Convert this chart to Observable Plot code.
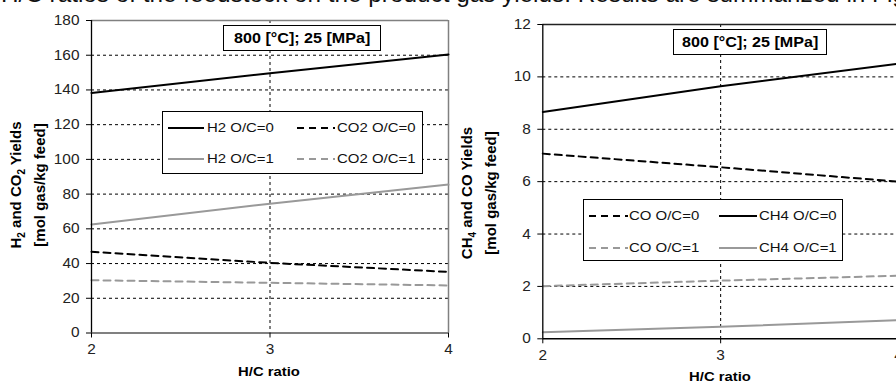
<!DOCTYPE html>
<html><head><meta charset="utf-8">
<script src="https://cdn.jsdelivr.net/npm/d3@7"></script>
<script src="https://cdn.jsdelivr.net/npm/@observablehq/plot@0.6"></script>
<style>
body{margin:0;background:#fff;font-family:"Liberation Sans",Arial,sans-serif;}
#page{position:relative;width:896px;height:383px;overflow:hidden;background:#fff;}
.abs{position:absolute;}
.toptext{position:absolute;left:1px;top:-19px;font-size:24.3px;line-height:25px;color:#111;white-space:nowrap;}
.ann{position:absolute;border:1px solid #000;background:#fff;font-weight:bold;color:#000;display:flex;align-items:center;justify-content:center;box-sizing:border-box;white-space:pre;}
.ann span{display:inline-block;font-size:14px;transform:scaleX(1.15);}
.legend{position:absolute;border:1px solid #000;background:#fff;box-sizing:border-box;}
.item{position:absolute;font-size:13px;color:#111;white-space:nowrap;line-height:14px;transform-origin:0 50%;transform:scaleX(1.15);}
.ytitle{position:absolute;transform:translate(-50%,-50%) rotate(-90deg);font-weight:bold;font-size:15px;line-height:18px;text-align:center;white-space:nowrap;color:#000;}
.xtitle{position:absolute;transform:translateX(-50%) scaleX(1.1);font-weight:bold;font-size:13.5px;color:#000;white-space:nowrap;}
</style></head><body><div id="page"></div>
<script>
// ---- data ----
const hcRatio = [2, 3, 4];
const xTicks = [2, 3, 4];
// left chart (H2, CO2)
const h2_oc0 = [138.3, 149.6, 160.4];
const h2_oc1 = [62.5, 74.5, 85.5];
const co2_oc0 = [46.8, 40.4, 35.2];
const co2_oc1 = [30.4, 28.9, 27.4];
const leftTicks = [0, 20, 40, 60, 80, 100, 120, 140, 160, 180];
// right chart (CH4, CO)
const ch4_oc0 = [8.66, 9.64, 10.5];
const ch4_oc1 = [0.25, 0.46, 0.71];
const co_oc0 = [7.07, 6.55, 6.0];
const co_oc1 = [2.01, 2.22, 2.41];
const rightTicks = [0, 2, 4, 6, 8, 10, 12];

const toRows = (vals) => hcRatio.map((x, i) => ({x, y: vals[i]}));

const page = document.getElementById("page");
const FONT = '"Liberation Sans", Arial, sans-serif';

const BLACK = "#000";
const GRAY = "#999";
const DASH = "7,5";

function stretchText(svg, sx) {
  svg.querySelectorAll('g[aria-label$="tick label"] text').forEach(t => {
    const tr = t.getAttribute("transform");
    if (tr) {
      t.setAttribute("transform", tr + ` scale(${sx},1)`);
    } else {
      const x = +t.getAttribute("x") || 0, y = +t.getAttribute("y") || 0;
      t.setAttribute("transform", `translate(${x},${y}) scale(${sx},1) translate(${-x},${-y})`);
    }
  });
}

function chart({ticks, ymax, series, marginLeft, marginTop, marginBottom, topStroke, rightStroke, bottomStroke, bottomWidth}) {
  const svg = Plot.plot({
    width: 450, height: 383,
    marginLeft, marginRight: 2, marginTop, marginBottom,
    x: {domain: [2, 4], axis: null},
    y: {domain: [0, ymax], axis: null},
    style: {fontFamily: FONT, fontSize: "14px", color: "#222", background: "transparent", overflow: "visible"},
    marks: [
      Plot.ruleY(ticks.filter(t => t > 0 && t < ymax), {stroke: "#000", strokeDasharray: "3,3", strokeWidth: 1}),
      Plot.ruleX([3], {stroke: "#000", strokeDasharray: "3,3", strokeWidth: 1}),
      Plot.ruleY([ymax], {stroke: topStroke, strokeWidth: 1.5}),
      rightStroke ? Plot.ruleX([4], {stroke: rightStroke, strokeWidth: 1.5}) : null,
      ...series.map(s => Plot.line(toRows(s.vals), {x: "x", y: "y", stroke: s.color, strokeWidth: s.w, strokeDasharray: s.dash})),
      Plot.ruleY([0], {stroke: bottomStroke, strokeWidth: bottomWidth}),
      Plot.ruleX([2], {stroke: "#000", strokeWidth: 1.3}),
      Plot.axisY(ticks, {anchor: "left", tickSize: 5, tickPadding: 7, label: null, stroke: "#000", fill: "#222", fontSize: 14, tickFormat: d => String(d)}),
      Plot.axisX(xTicks, {anchor: "bottom", tickSize: 5, tickPadding: 6, label: null, stroke: "#000", fill: "#222", fontSize: 14, tickFormat: d => String(d)})
    ]
  });
  stretchText(svg, 1.1);
  return svg;
}

const left = chart({
  ticks: leftTicks, ymax: 180, marginLeft: 91, marginTop: 20, marginBottom: 50.5,
  topStroke: "#808080", rightStroke: "#808080", bottomStroke: "#808080", bottomWidth: 1.8,
  series: [
    {vals: h2_oc0, color: BLACK, w: 2},
    {vals: h2_oc1, color: GRAY, w: 2},
    {vals: co2_oc0, color: BLACK, w: 2, dash: DASH},
    {vals: co2_oc1, color: GRAY, w: 2, dash: DASH}
  ]
});
left.style.position = "absolute"; left.style.left = "0px"; left.style.top = "0px";
page.appendChild(left);

const right = chart({
  ticks: rightTicks, ymax: 12, marginLeft: 92.3, marginTop: 24, marginBottom: 44.7,
  topStroke: "#222", rightStroke: null, bottomStroke: "#000", bottomWidth: 1.5,
  series: [
    {vals: ch4_oc0, color: BLACK, w: 2},
    {vals: ch4_oc1, color: GRAY, w: 2},
    {vals: co_oc0, color: BLACK, w: 2, dash: DASH},
    {vals: co_oc1, color: GRAY, w: 2, dash: DASH}
  ]
});
right.style.position = "absolute"; right.style.left = "450px"; right.style.top = "0px";
page.appendChild(right);

function add(html) { page.insertAdjacentHTML("beforeend", html); }

add(`<div class="toptext">H/C ratios of the feedstock on the product gas yields. Results are summarized in Fig</div>`);

// annotation boxes
add(`<div class="ann" style="left:223px;top:25px;width:158px;height:26px"><span>800 [°C]; 25 [MPa]</span></div>`);
add(`<div class="ann" style="left:673px;top:29px;width:154px;height:26px"><span>800 [°C]; 25 [MPa]</span></div>`);

// legends
function legend(x, y, w, h, items) {
  let s = `<div class="legend" style="left:${x}px;top:${y}px;width:${w}px;height:${h}px">`;
  for (const it of items) {
    s += `<svg class="abs" style="left:${it.sx}px;top:${it.cy - 3}px" width="${it.sw}" height="6"><line x1="0" y1="3" x2="${it.sw}" y2="3" stroke="${it.color}" stroke-width="2" ${it.dash ? `stroke-dasharray="${it.dash}"` : ""}/></svg>`;
    s += `<div class="item" style="left:${it.tx}px;top:${it.cy - 7}px">${it.label}</div>`;
  }
  s += `</div>`;
  add(s);
}
legend(162, 111, 261, 63, [
  {label: "H2 O/C=0", color: BLACK, sx: 5, sw: 36, tx: 44, cy: 16},
  {label: "CO2 O/C=0", color: BLACK, dash: DASH, sx: 134, sw: 38, tx: 174, cy: 16},
  {label: "H2 O/C=1", color: GRAY, sx: 5, sw: 36, tx: 44, cy: 47},
  {label: "CO2 O/C=1", color: GRAY, dash: DASH, sx: 134, sw: 38, tx: 174, cy: 47}
]);
legend(583, 199, 260, 62, [
  {label: "CO O/C=0", color: BLACK, dash: DASH, sx: 5, sw: 39, tx: 45, cy: 16},
  {label: "CH4 O/C=0", color: BLACK, sx: 135, sw: 38, tx: 175, cy: 16},
  {label: "CO O/C=1", color: GRAY, dash: DASH, sx: 5, sw: 39, tx: 45, cy: 48},
  {label: "CH4 O/C=1", color: GRAY, sx: 135, sw: 38, tx: 175, cy: 48}
]);

// axis titles
add(`<div class="ytitle" style="left:28px;top:185px">H<sub style="font-size:10px">2</sub> and CO<sub style="font-size:10px">2</sub> Yields<br>[mol gas/kg feed]</div>`);
add(`<div class="ytitle" style="left:479px;top:193px">CH<sub style="font-size:10px">4</sub> and CO Yields<br>[mol gas/kg feed]</div>`);
add(`<div class="xtitle" style="left:269px;top:364px">H/C ratio</div>`);
add(`<div class="xtitle" style="left:720px;top:369px">H/C ratio</div>`);
</script>
</body></html>
